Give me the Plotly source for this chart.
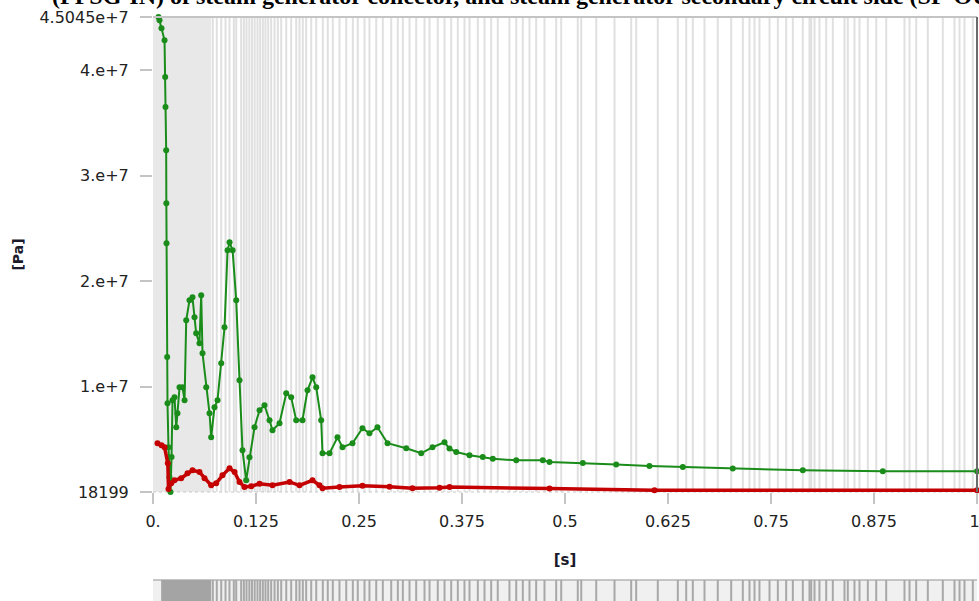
import plotly.graph_objects as go

# ---------------- data ----------------
time_green = [0.0067, 0.0079, 0.0103, 0.0140, 0.0148, 0.0152, 0.0160, 0.0162, 0.0164, 0.0172,
              0.0176, 0.0188, 0.0200, 0.0212, 0.0225, 0.0237, 0.0261, 0.0282, 0.0297, 0.0322,
              0.0358, 0.0383, 0.0403, 0.0443, 0.0479, 0.0504, 0.0524, 0.0564, 0.0585, 0.0601,
              0.0646, 0.0686, 0.0706, 0.0746, 0.0783, 0.0828, 0.0868, 0.0905, 0.0929, 0.0966,
              0.1010, 0.1050, 0.1086, 0.1131, 0.1171, 0.1232, 0.1293, 0.1353, 0.1414, 0.1450,
              0.1535, 0.1617, 0.1677, 0.1738, 0.1814, 0.1875, 0.1936, 0.1981, 0.2041, 0.2057,
              0.2142, 0.2239, 0.2300, 0.2421, 0.2542, 0.2627, 0.2724, 0.2846, 0.3073, 0.3255,
              0.3392, 0.3538, 0.3598, 0.3680, 0.3841, 0.4002, 0.4124, 0.4408, 0.4731, 0.4812,
              0.5216, 0.5621, 0.6025, 0.6430, 0.7036, 0.7886, 0.8857, 1.0]
p_green = [4.5045e7, 4.473e7, 4.397e7, 4.283e7, 3.936e7, 3.651e7, 3.241e7, 2.738e7, 2.359e7, 1.282e7,
           0.843e7, 0.425e7, 0.141e7, 18199, 0.334e7, 0.871e7, 0.900e7, 0.616e7, 0.748e7, 0.994e7,
           0.994e7, 0.871e7, 1.629e7, 1.819e7, 1.847e7, 1.658e7, 1.506e7, 1.411e7, 1.866e7, 1.317e7,
           0.994e7, 0.748e7, 0.520e7, 0.805e7, 0.871e7, 1.222e7, 1.563e7, 2.293e7, 2.369e7, 2.293e7,
           1.819e7, 1.060e7, 0.397e7, 0.113e7, 0.331e7, 0.616e7, 0.777e7, 0.824e7, 0.682e7, 0.587e7,
           0.653e7, 0.937e7, 0.900e7, 0.682e7, 0.682e7, 0.966e7, 1.089e7, 0.994e7, 0.682e7, 0.369e7,
           0.369e7, 0.520e7, 0.426e7, 0.464e7, 0.606e7, 0.558e7, 0.616e7, 0.464e7, 0.416e7, 0.369e7,
           0.426e7, 0.473e7, 0.413e7, 0.381e7, 0.350e7, 0.334e7, 0.318e7, 0.302e7, 0.302e7, 0.287e7,
           0.277e7, 0.262e7, 0.248e7, 0.239e7, 0.224e7, 0.208e7, 0.198e7, 0.198e7]

time_red = [0.0055, 0.0103, 0.0140, 0.0180, 0.0188, 0.0221, 0.0261, 0.0342, 0.0419, 0.0479,
            0.0564, 0.0625, 0.0706, 0.0767, 0.0843, 0.0929, 0.0990, 0.1050, 0.1110, 0.1192,
            0.1293, 0.1450, 0.1657, 0.1778, 0.1936, 0.2021, 0.2057, 0.2263, 0.2542, 0.2870,
            0.3149, 0.3477, 0.3598, 0.4812, 0.6086, 1.0]
p_red = [0.463e7, 0.445e7, 0.426e7, 0.274e7, 0.030e7, 0.085e7, 0.113e7, 0.132e7, 0.179e7, 0.208e7,
         0.191e7, 0.132e7, 0.065e7, 0.085e7, 0.160e7, 0.227e7, 0.191e7, 0.097e7, 0.049e7, 0.056e7,
         0.080e7, 0.065e7, 0.097e7, 0.065e7, 0.113e7, 0.065e7, 0.037e7, 0.049e7, 0.061e7, 0.051e7,
         0.037e7, 0.042e7, 0.049e7, 0.034e7, 0.018e7, 0.018e7]

# time steps shown as vertical lines (dense block at the start)
dense_block = [0.0, 0.0706]
time_steps = [0.0726, 0.0774, 0.0828, 0.0880, 0.0928, 0.0981, 0.1010, 0.1070, 0.1103, 0.1135,
              0.1169, 0.1201, 0.1234, 0.1268, 0.1300, 0.1333, 0.1365, 0.1398, 0.1434, 0.1475,
              0.1515, 0.1556, 0.1617, 0.1677, 0.1738, 0.1778, 0.1818, 0.1859, 0.1920, 0.1981,
              0.2061, 0.2121, 0.2182, 0.2263, 0.2345, 0.2425, 0.2485, 0.2567, 0.2627, 0.2709,
              0.2789, 0.2891, 0.2971, 0.3032, 0.3113, 0.3194, 0.3295, 0.3356, 0.3456, 0.3538,
              0.3619, 0.3699, 0.3780, 0.3841, 0.3942, 0.4023, 0.4104, 0.4184, 0.4326, 0.4408,
              0.4488, 0.4569, 0.4650, 0.4751, 0.4893, 0.4954, 0.5155, 0.5197, 0.5379, 0.5601,
              0.5803, 0.5864, 0.6126, 0.6369, 0.6471, 0.6551, 0.6693, 0.6854, 0.7017, 0.7158,
              0.7239, 0.7300, 0.7360, 0.7482, 0.7583, 0.7684, 0.7765, 0.7886, 0.7967, 0.7988,
              0.8028, 0.8088, 0.8170, 0.8250, 0.8392, 0.8432, 0.8513, 0.8574, 0.8675, 0.8777,
              0.8898, 0.9120, 0.9181, 0.9262, 0.9403, 0.9585, 0.9727, 0.9788, 0.9848, 0.9949]

x_tickvals = [0, 0.125, 0.25, 0.375, 0.5, 0.625, 0.75, 0.875, 1.0]
x_ticktext = ["0.", "0.125", "0.25", "0.375", "0.5", "0.625", "0.75", "0.875", "1."]
y_tickvals = [18199, 1e7, 2e7, 3e7, 4e7, 4.5045e7]
y_ticktext = ["18199", "1.e+7", "2.e+7", "3.e+7", "4.e+7", "4.5045e+7"]
y_range = [18199, 4.5045e7]

title_text = "(PPSG-IN) of steam generator collector, and steam generator secondary circuit side (SP-OUT)"

# ---------------- figure ----------------
fig = go.Figure()

fig.add_trace(go.Scatter(x=time_green, y=p_green, mode="lines+markers",
                         line=dict(color="#1a8c1a", width=2),
                         marker=dict(color="#1a8c1a", size=6),
                         cliponaxis=False, showlegend=False))
fig.add_trace(go.Scatter(x=time_red, y=p_red, mode="lines+markers",
                         line=dict(color="#c40000", width=3.5),
                         marker=dict(color="#c40000", size=6),
                         cliponaxis=False, showlegend=False))

shapes = []
shapes.append(dict(type="rect", xref="x", yref="paper", x0=dense_block[0], x1=dense_block[1],
                   y0=0, y1=1, fillcolor="#e8e8e8", line=dict(width=0), layer="below"))
for t in time_steps:
    shapes.append(dict(type="line", xref="x", yref="paper", x0=t, x1=t, y0=0, y1=1,
                       line=dict(color="#e0e0e0", width=2), layer="below"))
shapes.append(dict(type="line", xref="paper", yref="paper", x0=0, x1=1, y0=1, y1=1,
                   line=dict(color="#c4c4c4", width=2)))
shapes.append(dict(type="line", xref="paper", yref="paper", x0=1, x1=1, y0=0, y1=1,
                   line=dict(color="#6a6a6a", width=2)))
shapes.append(dict(type="line", xref="paper", yref="paper", x0=0, x1=1, y0=0, y1=0,
                   line=dict(color="#c8c8c8", width=1, dash="dot"), layer="below"))

# bottom time-step strip
strip_top = -0.1853
strip_bot = -0.26
shapes.append(dict(type="rect", xref="x", yref="paper", x0=-0.002, x1=1.01,
                   y0=strip_bot, y1=strip_top, fillcolor="#f0f0f0",
                   line=dict(color="#b4b4b4", width=1.5)))
shapes.append(dict(type="rect", xref="x", yref="paper", x0=0.0099, x1=dense_block[1],
                   y0=strip_bot, y1=strip_top, fillcolor="#a4a4a4", line=dict(width=0)))
for t in time_steps:
    shapes.append(dict(type="line", xref="x", yref="paper", x0=t, x1=t,
                       y0=strip_bot, y1=strip_top, line=dict(color="#a8a8a8", width=2)))

fig.update_layout(
    width=979, height=601,
    margin=dict(l=153, r=2, t=17, b=109, autoexpand=False),
    paper_bgcolor="white", plot_bgcolor="white",
    shapes=shapes,
    font=dict(family="DejaVu Sans", size=16, color="#222222"),
    xaxis=dict(range=[0, 1.0], tickvals=x_tickvals, ticktext=x_ticktext,
               showgrid=False, zeroline=False, showline=False,
               ticks="outside", ticklen=11, tickwidth=2, tickcolor="#c4c4c4",
               ticklabelstandoff=4, ticklabeloverflow="allow",
               tickfont=dict(family="DejaVu Sans", size=16, color="#222222"),
               title=dict(text="<b>[s]</b>", standoff=24,
                          font=dict(family="DejaVu Sans", size=15, color="#1a1a2a"))),
    yaxis=dict(range=y_range, tickvals=y_tickvals, ticktext=y_ticktext,
               showgrid=False, zeroline=False, showline=False,
               ticks="outside", ticklen=12, tickwidth=2, tickcolor="#c4c4c4",
               ticklabelstandoff=8, ticklabeloverflow="allow",
               tickfont=dict(family="DejaVu Sans", size=16, color="#222222"),
               title=dict(text="<b>[Pa]</b>", standoff=12,
                          font=dict(family="DejaVu Sans", size=14, color="#1a1a2a"))),
    annotations=[dict(text="<b>" + title_text + "</b>", xref="paper", yref="paper",
                      x=-0.125, y=1.0125, xanchor="left", yanchor="bottom", showarrow=False,
                      font=dict(family="Liberation Serif", size=24, color="black"))],
)

fig.write_html("out.html", config={"displayModeBar": False},
               post_script="document.body.style.margin='0px';document.body.style.overflow='hidden';")
